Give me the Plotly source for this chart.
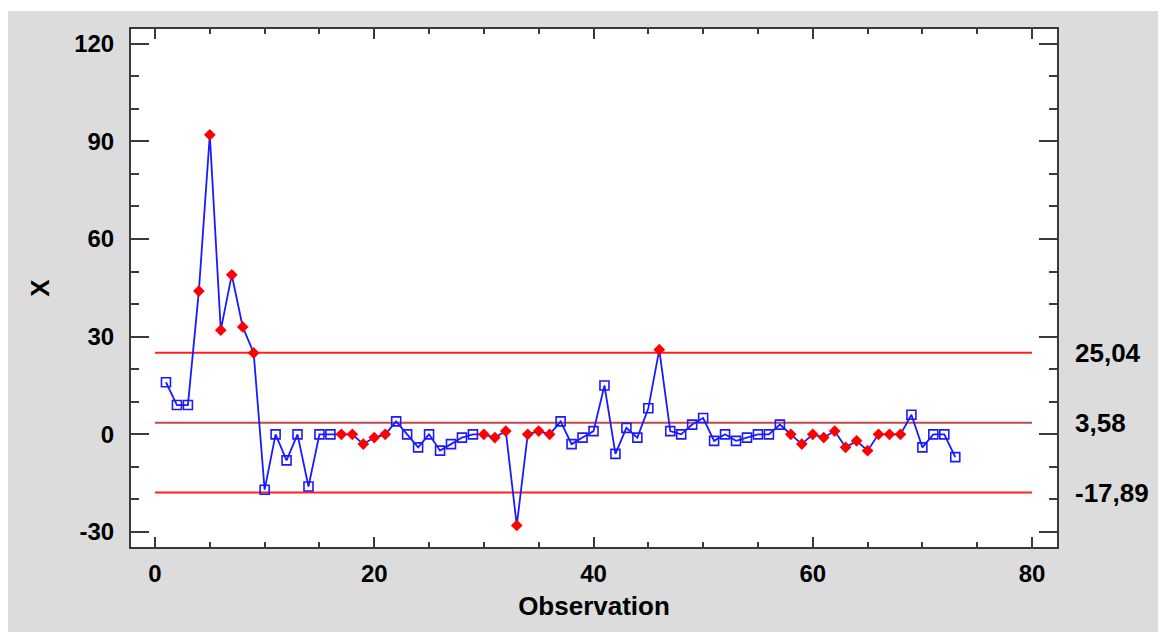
import plotly.graph_objects as go

# ---- data ----
observation = list(range(1, 74))
x_values = [16, 9, 9, 44, 92, 32, 49, 33, 25,
            -17, 0, -8, 0, -16, 0, 0,
            0, 0, -3, -1, 0,
            4, 0, -4, 0, -5, -3, -1, 0,
            0, -1, 1, -28, 0, 1, 0,
            4, -3, -1, 1, 15, -6, 2, -1, 8,
            26,
            1, 0, 3, 5, -2, 0, -2, -1, 0, 0, 3,
            0, -3, 0, -1, 1, -4, -2, -5, 0, 0, 0,
            6, -4, 0, 0, -7]
flagged = [4, 5, 6, 7, 8, 9, 17, 18, 19, 20, 21, 30, 31, 32, 33, 34, 35, 36, 46,
           58, 59, 60, 61, 62, 63, 64, 65, 66, 67, 68]
ucl = 25.04
center = 3.58
lcl = -17.89
limit_labels = ["25,04", "3,58", "-17,89"]
limit_span = [0, 80]
x_ticks = [0, 20, 40, 60, 80]
y_ticks = [-30, 0, 30, 60, 90, 120]
y_ticktext = ["-30", "0", "30", "60", "90", "120"]

x_ok = [o for o in observation if o not in flagged]
y_ok = [x_values[o - 1] for o in x_ok]
x_bad = [o for o in observation if o in flagged]
y_bad = [x_values[o - 1] for o in x_bad]

FONT = "Liberation Sans, Arial, sans-serif"
AX = "#3a3a3a"

fig = go.Figure()

# control lines
for val, col in [(ucl, "#ff2020"), (center, "#c04848"), (lcl, "#ff2020")]:
    fig.add_trace(go.Scatter(x=limit_span, y=[val, val], mode="lines",
                             line=dict(color=col, width=2), hoverinfo="skip",
                             showlegend=False))

fig.add_trace(go.Scatter(x=observation, y=x_values, mode="lines",
                         line=dict(color="#1a1aff", width=1.8), showlegend=False))
fig.add_trace(go.Scatter(x=x_ok, y=y_ok, mode="markers",
                         marker=dict(symbol="square-open", size=9, color="#1a1aff",
                                     line=dict(width=1.6, color="#1a1aff")),
                         showlegend=False))
fig.add_trace(go.Scatter(x=x_bad, y=y_bad, mode="markers",
                         marker=dict(symbol="diamond", size=9, color="#ff0000",
                                     line=dict(width=0)),
                         showlegend=False))

for val, txt in zip([ucl, center, lcl], limit_labels):
    fig.add_annotation(x=1.0, xref="paper", xshift=16, y=val, yref="y", text=txt,
                       showarrow=False, xanchor="left", yanchor="middle",
                       font=dict(family=FONT, size=26, color="black", weight="bold"))

W, H = 1166, 632
L, R, T, B = 123, 117, 21, 93
pw, ph = W - L - R, H - T - B

# slightly taller white strip at the very top
fig.add_shape(type="rect", xref="paper", yref="paper",
              x0=-L / pw, x1=(W - L) / pw, y0=1 + (T - 3) / ph, y1=1 + T / ph,
              fillcolor="white", line=dict(width=0), layer="above")

axis_common = dict(showline=True, linecolor=AX, linewidth=2, mirror="allticks",
                   ticks="inside", tickcolor=AX, tickwidth=2,
                   showgrid=False, zeroline=False,
                   tickfont=dict(family=FONT, size=24, color="black", weight="bold"))

fig.update_xaxes(range=[-2.19, 82.28], tickvals=x_ticks, ticklen=10,
                 minor=dict(dtick=5, tick0=0, ticks="inside", ticklen=5, tickwidth=2,
                            tickcolor=AX),
                 ticklabelstandoff=4,
                 title=dict(text="Observation", standoff=11,
                            font=dict(family=FONT, size=26, color="black", weight="bold")),
                 **axis_common)
fig.update_yaxes(range=[-34.6, 124.5], tickvals=y_ticks, ticktext=y_ticktext, ticklen=18,
                 minor=dict(dtick=10, tick0=0, ticks="inside", ticklen=8, tickwidth=2,
                            tickcolor=AX),
                 ticklabelstandoff=10,
                 title=dict(text="X", standoff=17,
                            font=dict(family=FONT, size=26, color="black", weight="bold")),
                 **axis_common)

fig.update_layout(width=W, height=H, margin=dict(l=L, r=R, t=T, b=B, autoexpand=False),
                  paper_bgcolor="#dcdcdc", plot_bgcolor="white", showlegend=False)

fig.write_html("out.html")
